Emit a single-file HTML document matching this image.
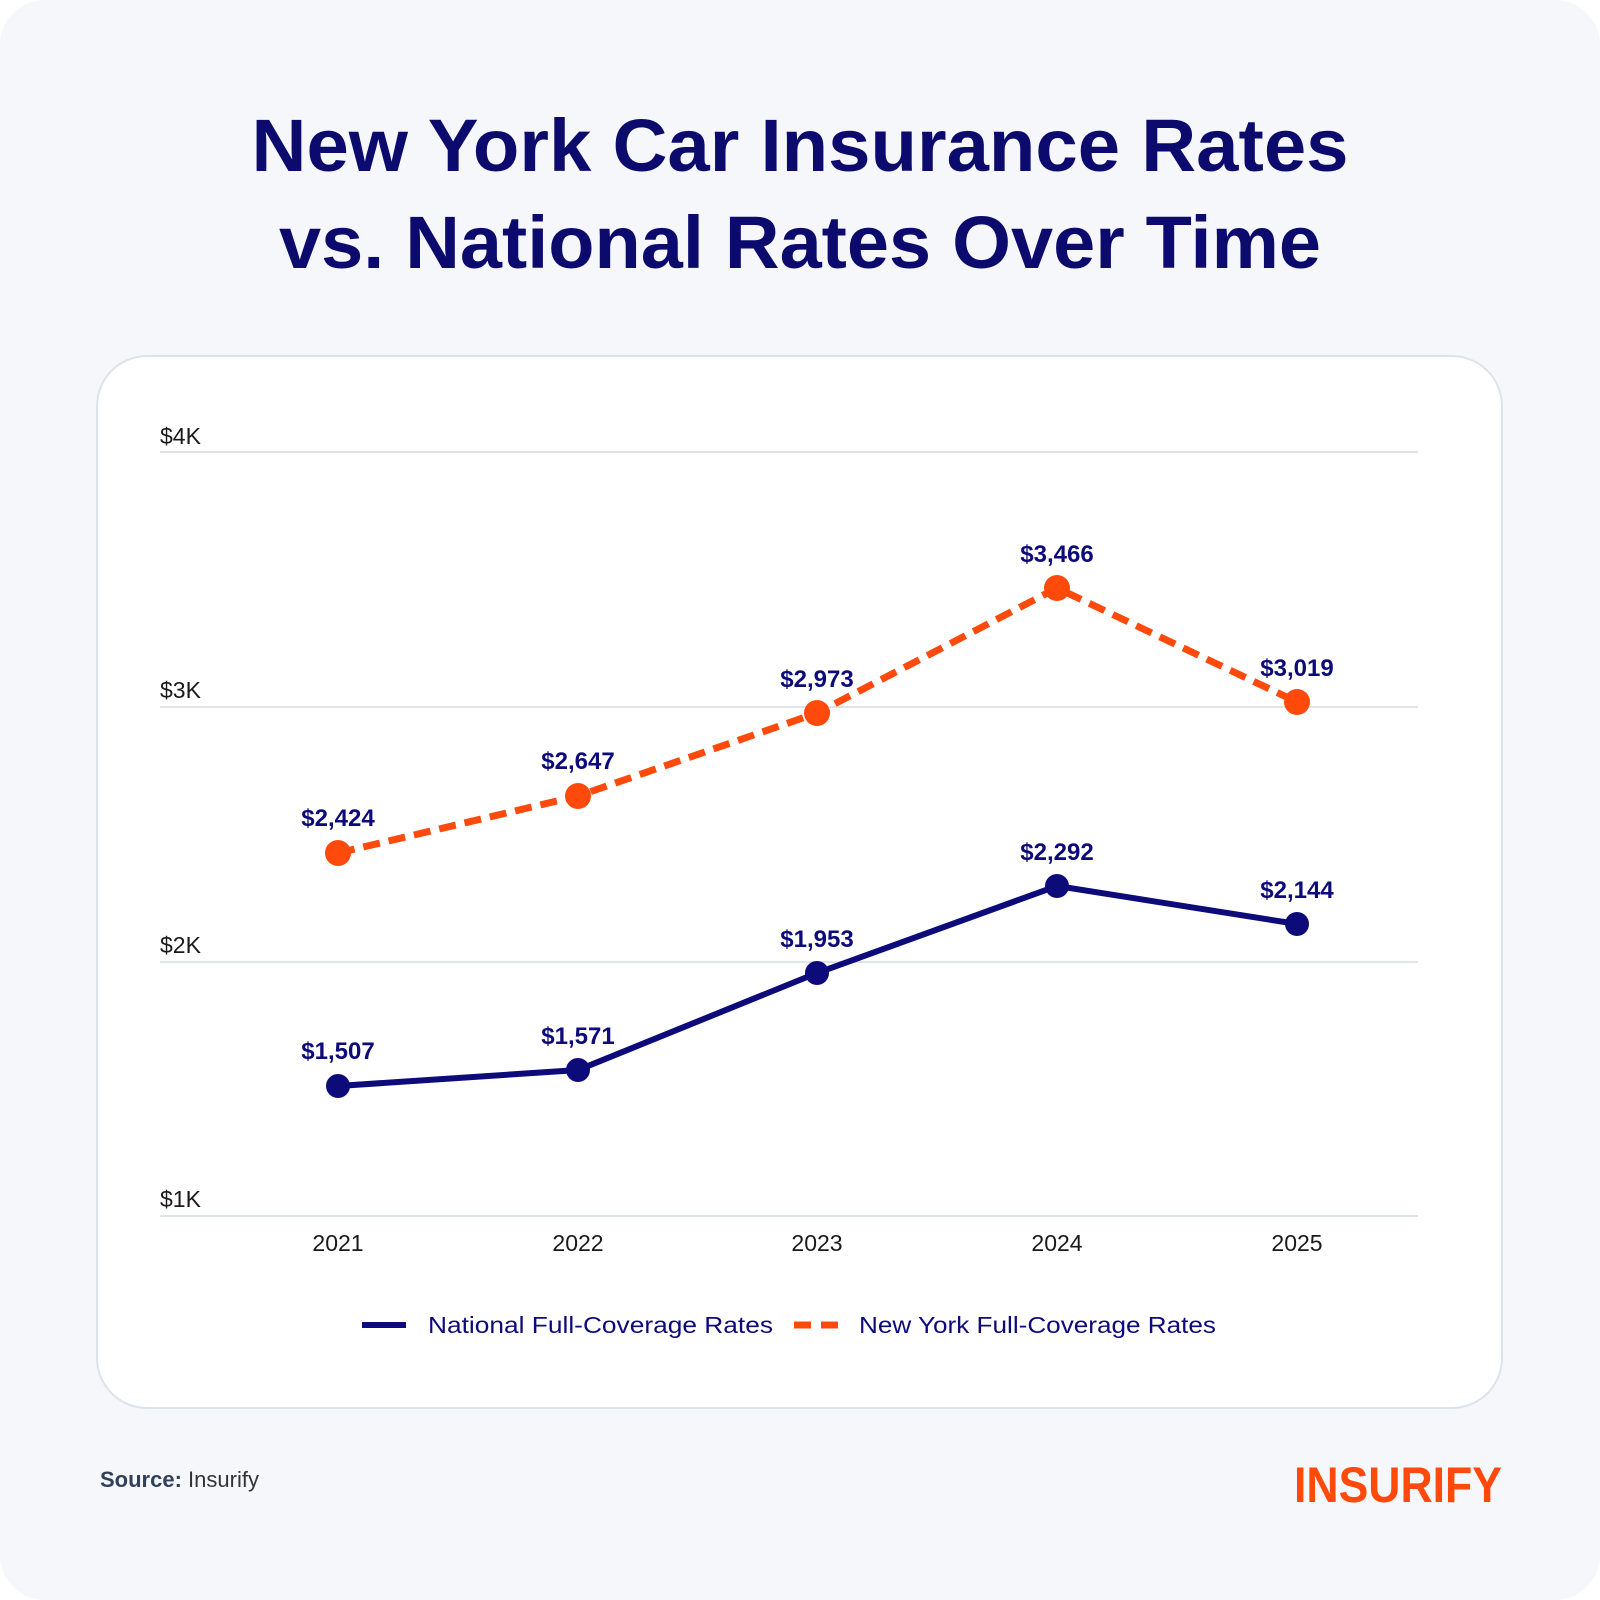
<!DOCTYPE html>
<html><head><meta charset="utf-8"><style>
html,body{margin:0;padding:0;background:#fff;}
svg{display:block;}
</style></head><body>
<svg width="1600" height="1600" viewBox="0 0 1600 1600" xmlns="http://www.w3.org/2000/svg" font-family="Liberation Sans, sans-serif">
<rect x="0" y="0" width="1600" height="1600" rx="45" fill="#f5f7fb"/>
<text x="800" y="171" text-anchor="middle" font-size="74" font-weight="bold" fill="#0d0a6e" textLength="1097" lengthAdjust="spacingAndGlyphs">New York Car Insurance Rates</text>
<text x="800" y="268" text-anchor="middle" font-size="74" font-weight="bold" fill="#0d0a6e" textLength="1042" lengthAdjust="spacingAndGlyphs">vs. National Rates Over Time</text>
<rect x="97" y="356" width="1405" height="1052" rx="50" fill="#fff" stroke="#dde3ec" stroke-width="2"/>
<g stroke="#dfe3ea" stroke-width="2">
<line x1="160" y1="452" x2="1418" y2="452"/>
<line x1="160" y1="707" x2="1418" y2="707"/>
<line x1="160" y1="962" x2="1418" y2="962"/>
<line x1="160" y1="1216" x2="1418" y2="1216"/>
</g>
<g font-size="23" fill="#1a1a1a">
<text x="160" y="444">$4K</text>
<text x="160" y="698">$3K</text>
<text x="160" y="953">$2K</text>
<text x="160" y="1207">$1K</text>
</g>
<g font-size="23" fill="#1a1a1a" text-anchor="middle">
<text x="338" y="1251">2021</text>
<text x="578" y="1251">2022</text>
<text x="817" y="1251">2023</text>
<text x="1057" y="1251">2024</text>
<text x="1297" y="1251">2025</text>
</g>
<polyline points="338,1086 578,1070 817,973 1057,886 1297,924" fill="none" stroke="#0d0a7a" stroke-width="6"/>
<polyline points="338,853 578,796 817,713 1057,588 1297,702" fill="none" stroke="#ff4a0c" stroke-width="7" stroke-dasharray="17,9"/>
<g fill="#0d0a7a">
<circle cx="338" cy="1086" r="12"/><circle cx="578" cy="1070" r="12"/><circle cx="817" cy="973" r="12"/><circle cx="1057" cy="886" r="12"/><circle cx="1297" cy="924" r="12"/>
</g>
<g fill="#ff4a0c">
<circle cx="338" cy="853" r="13"/><circle cx="578" cy="796" r="13"/><circle cx="817" cy="713" r="13"/><circle cx="1057" cy="588" r="13"/><circle cx="1297" cy="702" r="13"/>
</g>
<g font-size="24" font-weight="bold" fill="#0d0a7a" text-anchor="middle">
<text x="338" y="1059">$1,507</text>
<text x="578" y="1044">$1,571</text>
<text x="817" y="947">$1,953</text>
<text x="1057" y="860">$2,292</text>
<text x="1297" y="898">$2,144</text>
<text x="338" y="826">$2,424</text>
<text x="578" y="769">$2,647</text>
<text x="817" y="687">$2,973</text>
<text x="1057" y="562">$3,466</text>
<text x="1297" y="676">$3,019</text>
</g>
<line x1="362" y1="1325" x2="406" y2="1325" stroke="#0d0a7a" stroke-width="6"/>
<text x="428" y="1333" font-size="23" fill="#0d0a7a" textLength="345" lengthAdjust="spacingAndGlyphs">National Full-Coverage Rates</text>
<line x1="794" y1="1325" x2="839" y2="1325" stroke="#ff4a0c" stroke-width="7" stroke-dasharray="17,10"/>
<text x="859" y="1333" font-size="23" fill="#0d0a7a" textLength="357" lengthAdjust="spacingAndGlyphs">New York Full-Coverage Rates</text>
<text x="100" y="1487" font-size="22" fill="#333"><tspan font-weight="bold" fill="#33405a">Source:</tspan> Insurify</text>
<text x="1294" y="1502" font-size="50" font-weight="bold" fill="#ff4a0c" textLength="208" lengthAdjust="spacingAndGlyphs">INSURIFY</text>
</svg>
</body></html>
